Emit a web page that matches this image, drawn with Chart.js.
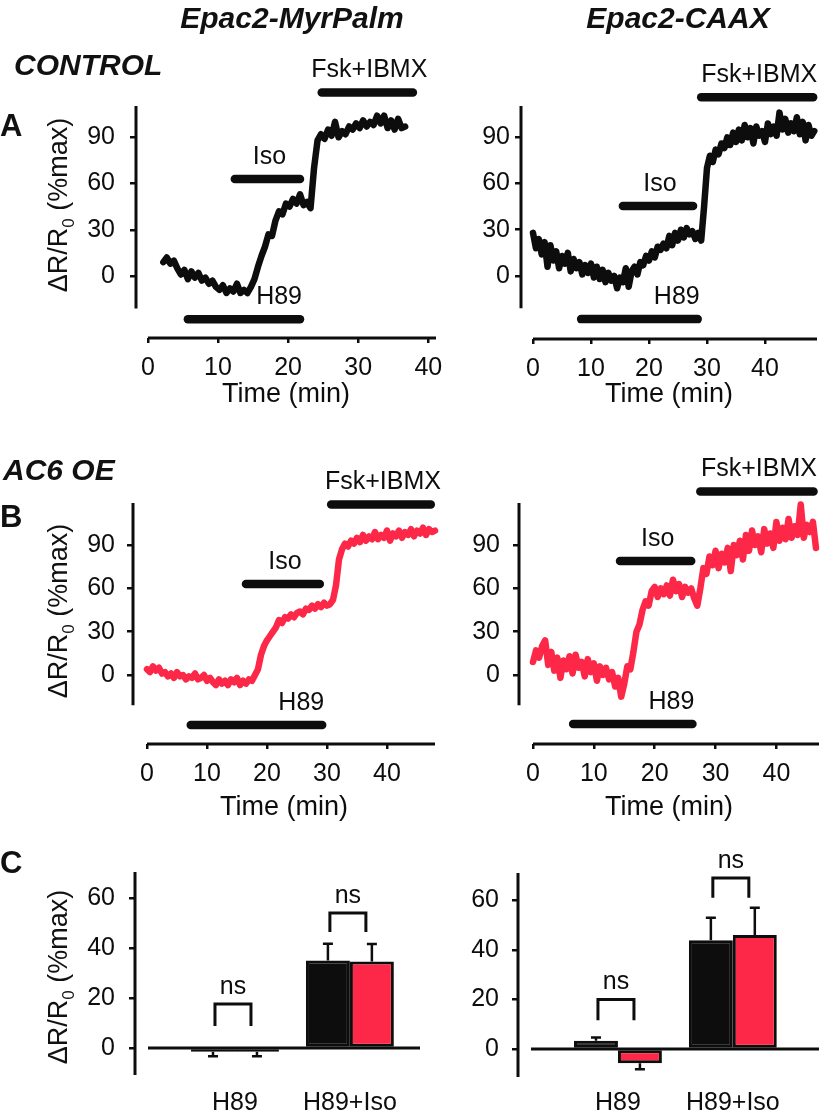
<!DOCTYPE html>
<html>
<head>
<meta charset="utf-8">
<title>Epac2 responses</title>
<script src="https://cdn.jsdelivr.net/npm/chart.js@4.4.1/dist/chart.umd.min.js"></script>
<style>
  body { margin: 0; background: #fff; }
  #fig { position: relative; width: 822px; height: 1113px; overflow: hidden;
         font-family: 'Liberation Sans', Arial, Helvetica, sans-serif; color: #111; }
  #fig canvas { position: absolute; left: 0; top: 0; }
  .t { position: absolute; white-space: nowrap; line-height: 1; }
  .head { font-weight: bold; font-style: italic; font-size: 30px; transform: translate(-50%, -50%); }
  .grp { font-weight: bold; font-style: italic; font-size: 30px; transform: translateY(-50%); }
  .letter { font-weight: bold; font-size: 31px; transform: translateY(-50%); }
  .ytitle { font-size: 27px; transform: translate(-50%, -50%) rotate(-90deg); }
  .ytitle sub { font-size: 17px; }
</style>
</head>
<body>
<div id="fig">
  <canvas id="aLeft" width="822" height="1113"></canvas>
  <canvas id="aRight" width="822" height="1113"></canvas>
  <canvas id="bLeft" width="822" height="1113"></canvas>
  <canvas id="bRight" width="822" height="1113"></canvas>
  <canvas id="cLeft" width="822" height="1113"></canvas>
  <canvas id="cRight" width="822" height="1113"></canvas>

  <div class="t head" style="left:292px; top:18px;">Epac2-MyrPalm</div>
  <div class="t head" style="left:678px; top:18px;">Epac2-CAAX</div>
  <div class="t grp" style="left:14px; top:65px;">CONTROL</div>
  <div class="t grp" style="left:3px; top:470px;">AC6 OE</div>
  <div class="t letter" style="left:0px; top:125px;">A</div>
  <div class="t letter" style="left:0px; top:516px;">B</div>
  <div class="t letter" style="left:0px; top:862px;">C</div>
  <div class="t ytitle" style="left:61px; top:205px;">ΔR/R<sub>0</sub> (%max)</div>
  <div class="t ytitle" style="left:61px; top:611px;">ΔR/R<sub>0</sub> (%max)</div>
  <div class="t ytitle" style="left:61px; top:977px;">ΔR/R<sub>0</sub> (%max)</div>
</div>

<script>
// ---- data ----
const dtMin = 0.5;                       // sampling step of the traces (min)
const timeTicks = [0, 10, 20, 30, 40];
const traceTicks = [0, 30, 60, 90];
const barTicks = [0, 20, 40, 60];
const treatNames = ['H89', 'Iso', 'Fsk+IBMX'];

// control, Epac2-MyrPalm (starts at 2.2 min)
const ctrlMyrStart = 2.2;
const ctrlMyr = [9, 12, 8, 10, 5, 1, 4, -2, 3, -1, 2, -3, -1, -5, -3, -7, -9, -6, -11, -8,
  -10, -5, -11, -9, -11, -7, -2, 6, 13, 19, 27, 26, 36, 42, 40, 47, 45, 50, 47, 53,
  46, 48, 44, 70, 88, 92, 89, 95, 91, 100, 90, 94, 92, 97, 95, 99, 96, 101, 97, 100,
  98, 104, 99, 104, 96, 101, 95, 102, 96, 97];
const ctrlMyrTreat = [[5.7, 21.7], [12.4, 21.7], [24.8, 37.8]];

// control, Epac2-CAAX
const ctrlCaaxStart = 0;
const ctrlCaax = [28, 18, 24, 14, 22, 6, 20, 10, 16, 5, 13, 8, 15, 3, 11, 5, 9, 1, 7, 2,
  8, -1, 6, -2, 4, -4, 2, -3, 0, -8, -1, -4, 5, -7, 3, 6, 1, 9, 7, 13,
  10, 16, 12, 19, 17, 21, 18, 26, 20, 28, 23, 30, 25, 31, 27, 29, 24, 28, 23, 45,
  70, 78, 74, 82, 79, 86, 83, 90, 85, 93, 87, 95, 88, 98, 90, 96, 86, 97, 91, 94,
  87, 99, 92, 97, 91, 106, 95, 102, 93, 99, 94, 103, 92, 100, 88, 98, 91, 94];
const ctrlCaaxTreat = [[8.3, 28.4], [15.5, 27.6], [29.0, 48.3]];

// AC6 overexpression, Epac2-MyrPalm
const oeMyrStart = 0;
const oeMyr = [4, 2, 6, 3, 5, 1, 2, -1, 1, -2, 2, -1, 0, -3, -1, -2, 1, -3, -2, 0,
  -4, -2, -5, -7, -3, -6, -4, -7, -3, -5, -2, -7, -4, -6, -3, -4, 0, 4, 14, 20,
  24, 27, 30, 33, 38, 36, 40, 39, 42, 40, 43, 44, 42, 46, 45, 48, 46, 49, 47, 50,
  48, 49, 52, 62, 80, 87, 91, 89, 93, 91, 95, 92, 97, 93, 96, 94, 99, 94, 97, 95,
  100, 93, 98, 96, 100, 95, 99, 97, 101, 96, 100, 98, 102, 97, 101, 99, 100];
const oeMyrTreat = [[7.3, 29.2], [16.5, 28.8], [30.7, 47.3]];

// AC6 overexpression, Epac2-CAAX
const oeCaaxStart = 0;
const oeCaax = [9, 17, 12, 20, 24, 7, 16, 3, 12, -2, 10, 4, 13, 1, 14, 5, 9, -1, 11, 2,
  8, -4, 6, 0, 5, -3, 2, -8, -2, -15, -6, 6, 4, 16, 30, 35, 45, 51, 48, 58,
  61, 54, 60, 56, 62, 55, 66, 58, 63, 54, 61, 57, 60, 53, 48, 60, 74, 70, 82, 76,
  86, 74, 84, 78, 88, 72, 90, 83, 93, 80, 97, 86, 100, 90, 96, 85, 101, 91, 98, 88,
  106, 93, 102, 94, 108, 95, 103, 97, 118, 95, 104, 99, 106, 88];
const oeCaaxTreat = [[6.6, 26.2], [14.3, 26.0], [27.5, 46.1]];

// summary bars (mean, SEM)
const barCats = ['H89', 'H89+Iso'];
const myrCtrlMean = [-1.5, 35.0];
const myrCtrlSem = [1.8, 6.7];
const myrOeMean = [-1.5, 34.6];
const myrOeSem = [1.8, 7.0];
const caaxCtrlMean = [3.3, 43.9];
const caaxCtrlSem = [1.3, 9.0];
const caaxOeMean = [-5.8, 46.0];
const caaxOeSem = [2.4, 11.0];

// ---- drawing ----
const PAGE_W = 822, PAGE_H = 1113;
const INK = '#0d0d0d';
const RED = '#fd2847';
const FONT = "'Liberation Sans', Arial, Helvetica, sans-serif";
const Y_W = 70;

Chart.defaults.font.family = FONT;
Chart.defaults.font.size = 25;
Chart.defaults.color = INK;

function padFor(area, xH) {
  return { left: area[0] - Y_W, top: area[1], right: PAGE_W - area[2], bottom: PAGE_H - area[3] - xH };
}

function traceDecor(p) {
  return {
    id: 'traceDecor',
    beforeDatasetsDraw(chart) {
      const { ctx, chartArea: a, scales: { x, y } } = chart;
      ctx.save();
      ctx.strokeStyle = INK;
      ctx.lineWidth = 3;
      ctx.beginPath();
      ctx.moveTo(a.left, y.getPixelForValue(p.yFrom));
      ctx.lineTo(a.left, a.top);
      ctx.moveTo(x.getPixelForValue(0), a.bottom);
      ctx.lineTo(a.right, a.bottom);
      ctx.stroke();
      ctx.restore();
    },
    afterDatasetsDraw(chart) {
      const { ctx, scales: { x, y } } = chart;
      ctx.save();
      ctx.fillStyle = INK;
      ctx.font = '25px ' + FONT;
      ctx.textBaseline = 'middle';
      p.treat.forEach((iv, i) => {
        const x0 = x.getPixelForValue(iv[0]);
        const x1 = x.getPixelForValue(iv[1]);
        const ty = y.getPixelForValue(p.levels[i]) - 22;
        if (i === 0) {
          ctx.textAlign = 'right';
          ctx.fillText(treatNames[i], x1 + 2, ty);
        } else {
          ctx.textAlign = 'center';
          ctx.fillText(treatNames[i], (x0 + x1) / 2 + 2, ty);
        }
      });
      ctx.restore();
    }
  };
}

function traceChart(id, p) {
  const datasets = [{
    data: p.vals.map((v, i) => ({ x: p.start + i * dtMin, y: v })),
    borderColor: p.color,
    borderWidth: 6.5
  }];
  p.treat.forEach((iv, i) => {
    datasets.push({
      data: [{ x: iv[0], y: p.levels[i] }, { x: iv[1], y: p.levels[i] }],
      borderColor: INK,
      borderWidth: 8.5
    });
  });

  new Chart(document.getElementById(id), {
    type: 'line',
    data: { datasets },
    options: {
      responsive: false,
      animation: false,
      events: [],
      layout: { padding: padFor(p.area, p.xH) },
      datasets: { line: { clip: false } },
      elements: {
        point: { radius: 0 },
        line: { tension: 0, borderJoinStyle: 'round', borderCapStyle: 'round', fill: false }
      },
      plugins: { legend: { display: false }, tooltip: { enabled: false } },
      scales: {
        x: {
          type: 'linear', min: p.x[0], max: p.x[1],
          afterBuildTicks: s => { s.ticks = timeTicks.map(v => ({ value: v })); },
          afterFit: s => { s.height = p.xH; },
          grid: { drawOnChartArea: false, tickLength: 5, lineWidth: 2.5, color: INK },
          border: { display: false },
          ticks: { padding: 10, maxRotation: 0, autoSkip: false },
          title: { display: true, text: 'Time (min)', padding: 0, font: { size: 27 } }
        },
        y: {
          type: 'linear', min: p.y[0], max: p.y[1],
          afterBuildTicks: s => { s.ticks = traceTicks.map(v => ({ value: v })); },
          afterFit: s => { s.width = Y_W; },
          grid: { drawOnChartArea: false, tickLength: 6, lineWidth: 2.5, color: INK },
          border: { display: false },
          ticks: { padding: p.gap - 6 }
        }
      }
    },
    plugins: [traceDecor(p)]
  });
}

function barDecor(p) {
  return {
    id: 'barDecor',
    beforeDatasetsDraw(chart) {
      const { ctx, chartArea: a, scales: { y } } = chart;
      ctx.save();
      ctx.strokeStyle = INK;
      ctx.lineWidth = 3;
      ctx.beginPath();
      ctx.moveTo(a.left, a.bottom);
      ctx.lineTo(a.left, a.top);
      const y0 = y.getPixelForValue(0);
      ctx.moveTo(a.left + 13, y0);
      ctx.lineTo(a.right, y0);
      ctx.stroke();
      ctx.restore();
    },
    afterDatasetsDraw(chart) {
      const { ctx, scales: { x, y } } = chart;
      ctx.save();
      ctx.strokeStyle = INK;
      ctx.fillStyle = INK;
      ctx.lineWidth = 2.5;
      [[p.ctrl, p.ctrlSem], [p.oe, p.oeSem]].forEach(([means, sems], d) => {
        chart.getDatasetMeta(d).data.forEach((bar, i) => {
          const sign = means[i] >= 0 ? 1 : -1;
          const yA = y.getPixelForValue(means[i]);
          const yB = y.getPixelForValue(means[i] + sign * sems[i]);
          ctx.beginPath();
          ctx.moveTo(bar.x, yA);
          ctx.lineTo(bar.x, yB);
          ctx.moveTo(bar.x - 5, yB);
          ctx.lineTo(bar.x + 5, yB);
          ctx.stroke();
        });
      });
      ctx.lineWidth = 3;
      ctx.font = '25px ' + FONT;
      ctx.textAlign = 'center';
      ctx.textBaseline = 'middle';
      barCats.forEach((c, i) => {
        const cx = x.getPixelForValue(i + 1);
        const lo = y.getPixelForValue(p.brackets[i][0]);
        const hi = y.getPixelForValue(p.brackets[i][1]);
        ctx.beginPath();
        ctx.moveTo(cx - 20, lo);
        ctx.lineTo(cx - 20, hi);
        ctx.lineTo(cx + 16, hi);
        ctx.lineTo(cx + 16, lo);
        ctx.stroke();
        ctx.fillText('ns', cx - 2, hi - 17);
      });
      ctx.restore();
    }
  };
}

function barChart(id, p) {
  const pts = means => means.map((m, i) => ({ x: i + 1, y: m }));
  const common = { borderColor: INK, borderWidth: 3, borderSkipped: false,
                   categoryPercentage: 0.765, barPercentage: 1 };
  new Chart(document.getElementById(id), {
    type: 'bar',
    data: {
      datasets: [
        Object.assign({ data: pts(p.ctrl), backgroundColor: INK }, common),
        Object.assign({ data: pts(p.oe), backgroundColor: RED }, common)
      ]
    },
    options: {
      responsive: false,
      animation: false,
      events: [],
      layout: { padding: padFor(p.area, 60) },
      plugins: { legend: { display: false }, tooltip: { enabled: false } },
      scales: {
        x: {
          type: 'linear', min: p.x[0], max: p.x[1], offset: false,
          afterBuildTicks: s => { s.ticks = barCats.map((c, i) => ({ value: i + 1 })); },
          afterFit: s => { s.height = 60; },
          grid: { display: false, drawTicks: false },
          border: { display: false },
          ticks: { padding: p.labPad, autoSkip: false, maxRotation: 0,
                   callback: v => barCats[v - 1] }
        },
        y: {
          type: 'linear', min: p.y[0], max: p.y[1],
          afterBuildTicks: s => { s.ticks = barTicks.map(v => ({ value: v })); },
          afterFit: s => { s.width = Y_W; },
          grid: { drawOnChartArea: false, tickLength: 6, lineWidth: 2.5, color: INK },
          border: { display: false },
          ticks: { padding: p.gap - 6 }
        }
      }
    },
    plugins: [barDecor(p)]
  });
}

traceChart('aLeft', {
  area: [136, 106, 436, 338], x: [-1.7, 41.1], y: [-40.2, 110.3], yFrom: -21, gap: 21, xH: 73,
  levels: [-28, 63, 119], start: ctrlMyrStart, vals: ctrlMyr, treat: ctrlMyrTreat, color: INK
});
traceChart('aRight', {
  area: [521, 106, 817, 339], x: [-2.07, 48.97], y: [-40.9, 110.3], yFrom: -21, gap: 11, xH: 72,
  levels: [-28, 45.4, 116], start: ctrlCaaxStart, vals: ctrlCaax, treat: ctrlCaaxTreat, color: INK
});
traceChart('bLeft', {
  area: [133, 503, 435, 744], x: [-2.33, 48], y: [-47.8, 119.1], yFrom: -21, gap: 18, xH: 80,
  levels: [-34.6, 63, 118], start: oeMyrStart, vals: oeMyr, treat: oeMyrTreat, color: RED
});
traceChart('bRight', {
  area: [519, 503, 819, 744], x: [-2.3, 47.0], y: [-47.8, 119.1], yFrom: -21, gap: 19, xH: 80,
  levels: [-34, 79, 127], start: oeCaaxStart, vals: oeCaax, treat: oeCaaxTreat, color: RED
});
barChart('cLeft', {
  area: [135, 872, 420, 1075], x: [0.13, 2.61], y: [-10.8, 70.4], gap: 20, labPad: 13,
  ctrl: myrCtrlMean, ctrlSem: myrCtrlSem, oe: myrOeMean, oeSem: myrOeSem,
  brackets: [[8.8, 17.6], [46.4, 54]]
});
barChart('cRight', {
  area: [518, 873, 819, 1077], x: [0.13, 2.75], y: [-11.3, 71], gap: 19, labPad: 11,
  ctrl: caaxCtrlMean, ctrlSem: caaxCtrlSem, oe: caaxOeMean, oeSem: caaxOeSem,
  brackets: [[11.6, 20], [61, 69]]
});
</script>
</body>
</html>
